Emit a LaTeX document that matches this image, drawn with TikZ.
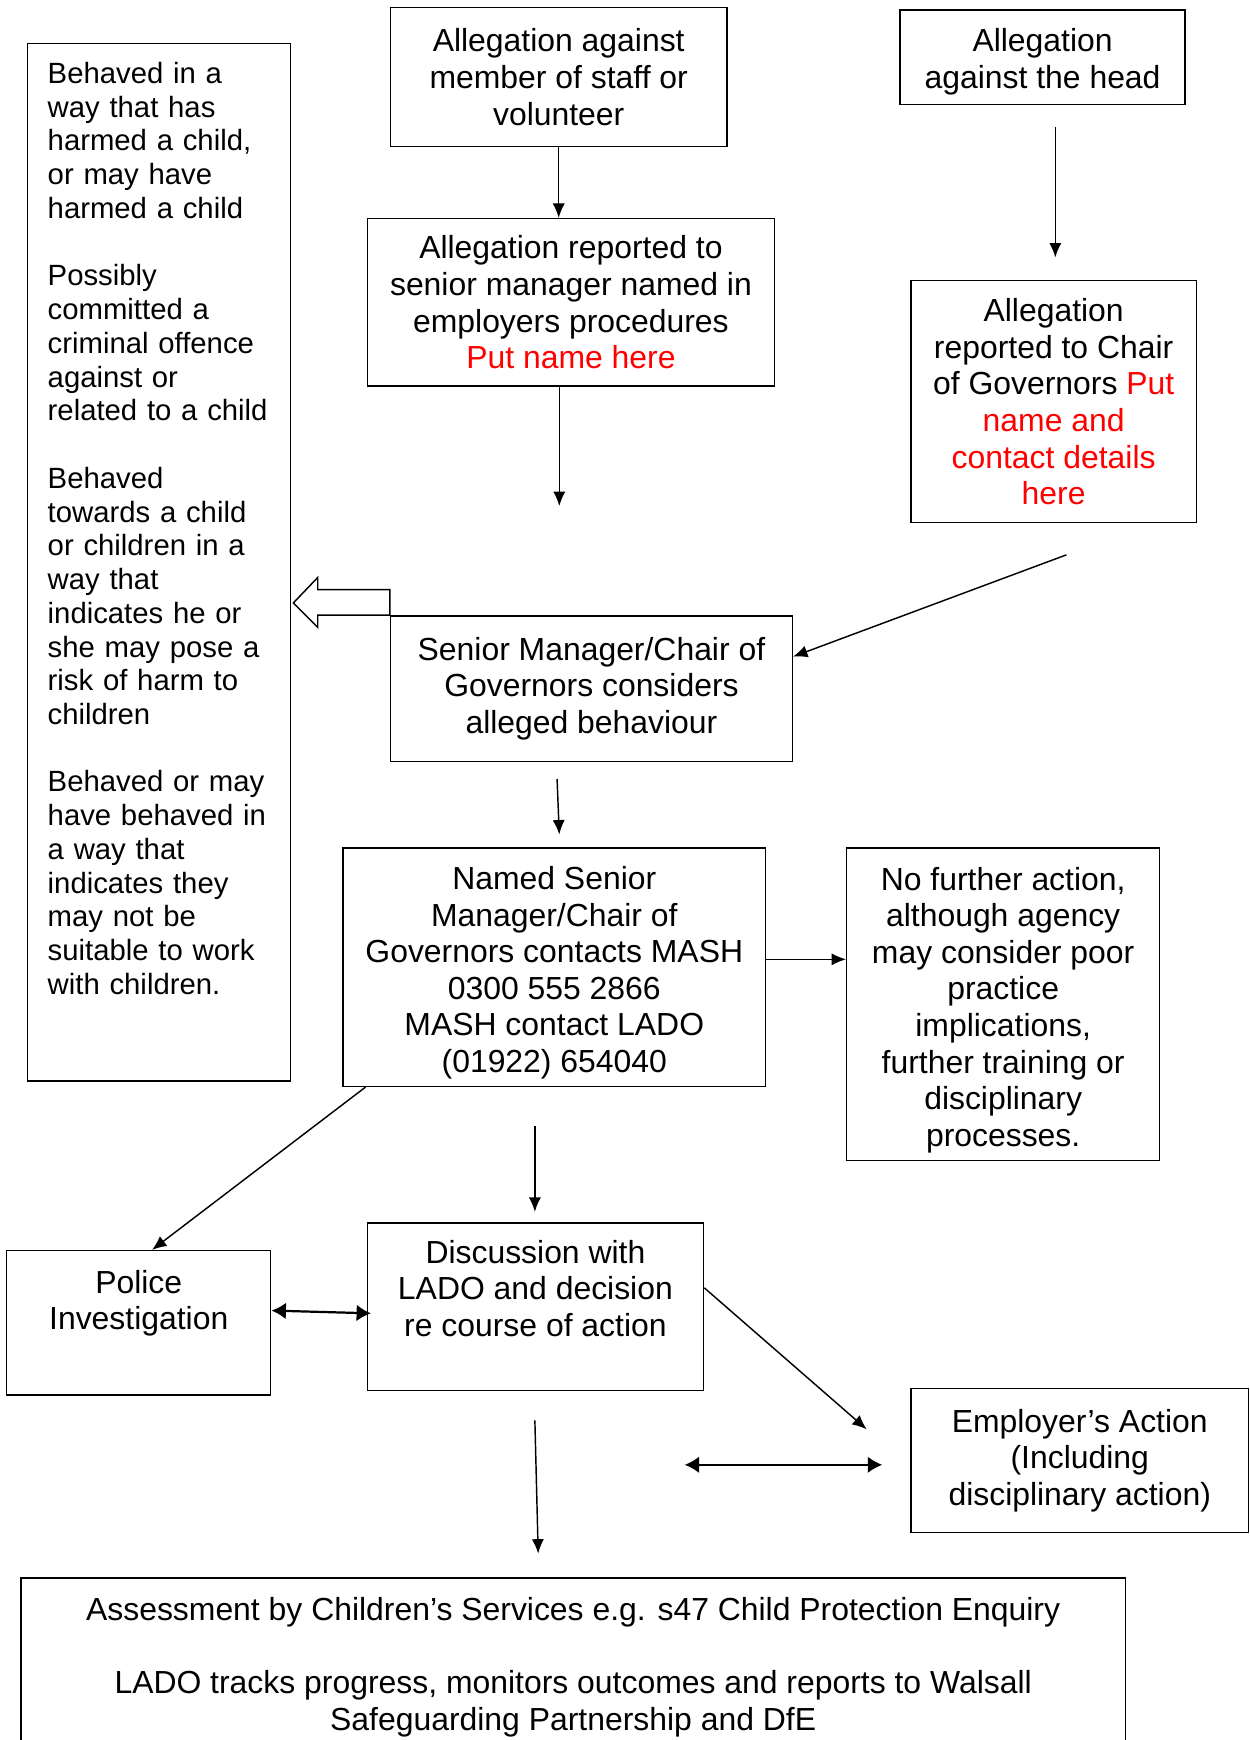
\documentclass[tikz,border=0pt]{standalone}
\usepackage{fontspec}
\setmainfont{Liberation Sans}
\usepackage{tikz}
\usetikzlibrary{arrows.meta}

\begin{document}
\begin{tikzpicture}[x=1pt,y=-1pt,
        box/.style={draw, line width=1.3pt, inner sep=0pt, align=center, font=\fontsize{28.75}{33}\selectfont},
        arr/.style={line width=1.3pt, -{Latex[length=13pt,width=11pt]}},
        dbl/.style={line width=2pt, {Latex[length=13pt,width=15pt]}-{Latex[length=13pt,width=15pt]}}]
        \useasboundingbox (0,0) rectangle (1126.4,1568);
        \clip (0,0) rectangle (1126.4,1568);
        \node[box, align=left, text width=201pt, minimum width=237pt, minimum height=935pt, font=\fontsize{26.4}{30.4}\selectfont] (crit) at (143.5,506.5) {Behaved in a\\way that has\\harmed a child,\\or may have\\harmed a child\\[30.4pt]Possibly\\committed a\\criminal offence\\against or\\related to a child\\[30.4pt]Behaved\\towards a child\\or children in a\\way that\\indicates he or\\she may pose a\\risk of harm to\\children\\[30.4pt]Behaved or may\\have behaved in\\a way that\\indicates they\\may not be\\suitable to work\\with children.\\[30.4pt]\mbox{}};
        \node[box, minimum width=303pt, minimum height=125pt] (staff) at (503.5,69.5) {Allegation against\\member of staff or\\volunteer};
        \node[box, minimum width=257pt, minimum height=85pt] (head) at (939.5,51.5) {\rule{0pt}{29pt}Allegation\\against the head};
        \node[box, minimum width=367pt, minimum height=151pt] (rep) at (514.5,272.5) {Allegation reported to\\senior manager named in\\employers procedures\\\textcolor{red}{Put name here}};
        \node[box, minimum width=257pt, minimum height=218pt] (chair) at (949.5,362) {Allegation\\reported to Chair\\of Governors \textcolor{red}{Put}\\\textcolor{red}{name and}\\\textcolor{red}{contact details}\\\textcolor{red}{here}};
        \node[box, minimum width=362pt, minimum height=131pt] (cons) at (533,620.5) {Senior Manager/Chair of\\Governors considers\\alleged behaviour};
        \node[box, minimum width=381pt, minimum height=215pt] (mash) at (499.5,871.5) {\rule{0pt}{31pt}Named Senior\\Manager/Chair of\\Governors contacts MASH\\0300 555 2866\\MASH contact LADO\\(01922) 654040};
        \node[box, minimum width=282pt, minimum height=282pt] (nfa) at (904,905) {\rule{0pt}{31pt}No further action,\\although agency\\may consider poor\\practice\\implications,\\further training or\\disciplinary\\processes.};
        \node[box, minimum width=238pt, minimum height=130pt] (pol) at (125,1192) {Police\\Investigation\\[8pt]\mbox{}};
        \node[box, minimum width=303pt, minimum height=151pt] (disc) at (482.5,1177.5) {Discussion with\\LADO and decision\\re course of action\\\mbox{}};
        \node[box, minimum width=304pt, minimum height=130pt] (emp) at (973,1316) {Employer's Action\\(Including\\disciplinary action)};
        \node[box, minimum width=995pt, minimum height=188pt] (assess) at (516.5,1516) {Assessment by Children's Services e.g. s47 Child Protection Enquiry\\[33pt]LADO tracks progress, monitors outcomes and reports to Walsall\\Safeguarding Partnership and DfE\\\mbox{}};
        \coordinate (h1) at (951,114);
        \coordinate (h2) at (951,232);
        \coordinate (r1) at (504,456);
        \coordinate (c1) at (961,500);
        \coordinate (m1) at (502,702);
        \coordinate (m2) at (504,752);
        \coordinate (d1) at (482,1015);
        \coordinate (d2) at (482,1092);
        \coordinate (e1) at (781,1288);
        \coordinate (x1) at (617,1320);
        \coordinate (x2) at (795,1320);
        \coordinate (a1) at (482,1280);
        \coordinate (a2) at (485,1400);
        \draw[arr] (staff.south) -- (staff.south |- rep.north);
        \draw[arr] (h1) -- (h2);
        \draw[arr] (rep.south -| r1) -- (r1);
        \draw[arr] (c1) -- (cons.9);
        \draw[line width=1.3pt, fill=white, shift={(cons.north west)}] (0,0) -- (0,-23) -- (-65,-23) -- (-65,-34) -- (-87,-11) -- (-65,11) -- (-65,0) -- cycle;
        \draw[arr] (m1) -- (m2);
        \draw[arr] ([yshift=7pt]mash.east) -- ([yshift=7pt]mash.east -| nfa.west);
        \draw[arr] ([xshift=21pt]mash.south west) -- ([xshift=12pt]pol.north);
        \draw[arr] (d1) -- (d2);
        \draw[dbl] ([yshift=11pt]pol.east) -- ([xshift=4pt,yshift=-6pt]disc.west);
        \draw[arr] ([yshift=17pt]disc.east) -- (e1);
        \draw[dbl] (x1) -- (x2);
        \draw[arr] (a1) -- (a2);
\end{tikzpicture}
\end{document}
